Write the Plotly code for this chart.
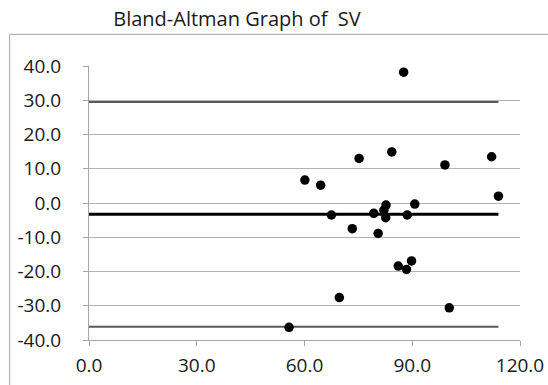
import plotly.graph_objects as go

# Bland-Altman data: mean of methods (x) vs difference (y)
mean_vals = [112.1, 99.1, 114.0, 100.3, 87.6, 84.3, 75.2, 60.1, 64.5,
             67.5, 73.3, 79.3, 80.5, 82.7, 82.1, 82.6, 88.6, 90.7,
             86.1, 88.4, 89.8, 69.7, 55.7]
diff_vals = [13.5, 11.1, 2.0, -30.6, 38.2, 14.9, 13.0, 6.7, 5.2,
             -3.5, -7.5, -3.0, -8.9, -0.6, -2.1, -4.3, -3.5, -0.3,
             -18.4, -19.4, -16.9, -27.6, -36.3]

line_x = [0, 114]
mean_diff = -3.3
upper_loa = 29.5
lower_loa = -36.1

x_ticks = [0, 30, 60, 90, 120]
y_ticks = [40, 30, 20, 10, 0, -10, -20, -30, -40]
x_labels = [f"{v:.1f}" for v in x_ticks]
y_labels = [f"{v:.1f}" for v in y_ticks]

FONT = "Open Sans"

fig = go.Figure()
fig.add_trace(go.Scatter(x=line_x, y=[upper_loa, upper_loa], mode="lines",
                         line=dict(color="#5a5a5a", width=2), hoverinfo="skip"))
fig.add_trace(go.Scatter(x=line_x, y=[lower_loa, lower_loa], mode="lines",
                         line=dict(color="#5a5a5a", width=2), hoverinfo="skip"))
fig.add_trace(go.Scatter(x=line_x, y=[mean_diff, mean_diff], mode="lines",
                         line=dict(color="#000000", width=3), hoverinfo="skip"))
fig.add_trace(go.Scatter(x=mean_vals, y=diff_vals, mode="markers",
                         marker=dict(color="#000000", size=9.5)))

W, H = 548, 385
L, R, T, B = 89.3, 520, 65.7, 340
pw, ph = R - L, B - T

fig.update_layout(
    width=W, height=H,
    margin=dict(l=L, r=W - R, t=T, b=H - B, pad=0),
    paper_bgcolor="white", plot_bgcolor="white",
    showlegend=False,
    font=dict(family=FONT, size=19, color="#1a1a1a"),
    title=dict(text="Bland-Altman Graph of  SV", x=237 / W, xanchor="center",
               y=1 - 19 / H, yanchor="middle", xref="container", yref="container",
               automargin=False,
               font=dict(family=FONT, size=20, color="#1a1a1a")),
    xaxis=dict(range=[0, 120], tickvals=x_ticks, ticktext=x_labels,
               showgrid=False, zeroline=False, showline=True, linecolor="#a6a6a6",
               linewidth=1, ticks="outside", ticklen=5, tickcolor="#a6a6a6",
               ticklabelstandoff=3, automargin=False, fixedrange=True),
    yaxis=dict(range=[-40, 40], tickvals=y_ticks, ticktext=y_labels,
               showgrid=True, gridcolor="#b3b3b3", gridwidth=1, zeroline=False,
               showline=True, linecolor="#a6a6a6", linewidth=1,
               ticks="outside", ticklen=5, tickcolor="#a6a6a6",
               ticklabelstandoff=18, automargin=False, fixedrange=True),
    shapes=[dict(type="rect", xref="paper", yref="paper",
                 x0=(10 - L) / pw, x1=(W + 5 - L) / pw,
                 y0=(B - (H + 5)) / ph, y1=(B - 34) / ph,
                 line=dict(color="#a6a6a6", width=1), layer="below")],
)

fig.write_html("out.html", config={"displayModeBar": False},
               post_script="document.body.style.margin='0';document.body.style.padding='0';")
